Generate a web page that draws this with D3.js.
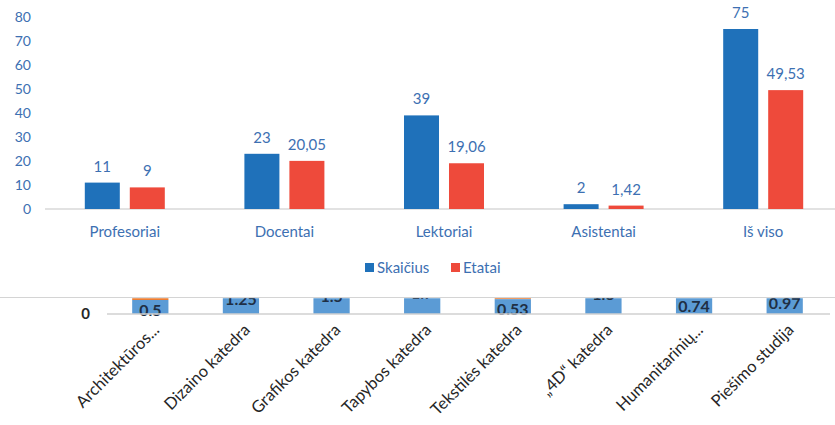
<!DOCTYPE html>
<html>
<head>
<meta charset="utf-8">
<script src="https://cdn.jsdelivr.net/npm/d3@7"></script>
<style>
  body { margin: 0; background: #fff; }
  svg { display: block; font-family: Lato, "Open Sans", sans-serif; }
</style>
</head>
<body>
<div id="chart"></div>
<script>
// top chart data
var categories = ["Profesoriai", "Docentai", "Lektoriai", "Asistentai", "Iš viso"];
var skaicius = [11, 23, 39, 2, 75];
var etatai = [9, 20.05, 19.06, 1.42, 49.53];
var etataiLabels = ["9", "20,05", "19,06", "1,42", "49,53"];
var yTicks = [0, 10, 20, 30, 40, 50, 60, 70, 80];

// bottom (cropped) chart data
var katedros = ["Architektūros...", "Dizaino katedra", "Grafikos katedra", "Tapybos katedra",
    "Tekstilės katedra", "„4D“ katedra", "Humanitarinių...", "Piešimo studija"];
var blueVals = [0.5, 1.25, 1.5, 1.7, 0.53, 1.6, 0.74, 0.97];
var orangeVals = [0.3, 0.25, 0.3, 0.3, 0.3, 0.2, 0.2, 0.1];

var width = 835, height = 425;
var svg = d3.select("#chart").append("svg")
    .attr("width", width)
    .attr("height", height);

var blue = "#1f71ba", red = "#ee4a3b", labelBlue = "#3d70b2";

// ---- top chart
var x = d3.scaleBand().domain(categories).range([45, 843]);
var xi = d3.scaleBand().domain(["s", "e"]).range([x.bandwidth() / 2 - 40, x.bandwidth() / 2 + 40]).paddingInner(0.222);
var y = d3.scaleLinear().domain([0, 80]).range([209, 17]);

svg.selectAll(".ytick")
    .data(yTicks)
    .enter().append("text")
    .attr("x", 31)
    .attr("y", d => y(d))
    .attr("dy", "0.35em")
    .attr("text-anchor", "end")
    .attr("fill", labelBlue)
    .style("font-size", "14px")
    .text(d => d);

svg.append("line")
    .attr("x1", 45).attr("x2", 835)
    .attr("y1", y(0)).attr("y2", y(0))
    .attr("stroke", "#d9d9d9").attr("stroke-width", 1.5);

var groups = svg.selectAll(".grp")
    .data(categories)
    .enter().append("g")
    .attr("transform", d => "translate(" + x(d) + ",0)");

groups.append("rect")
    .attr("x", xi("s"))
    .attr("width", xi.bandwidth())
    .attr("y", (d, i) => y(skaicius[i]))
    .attr("height", (d, i) => y(0) - y(skaicius[i]))
    .attr("fill", blue);

groups.append("rect")
    .attr("x", xi("e"))
    .attr("width", xi.bandwidth())
    .attr("y", (d, i) => y(etatai[i]))
    .attr("height", (d, i) => y(0) - y(etatai[i]))
    .attr("fill", red);

groups.append("text")
    .attr("x", xi("s") + xi.bandwidth() / 2)
    .attr("y", (d, i) => y(skaicius[i]) - 11)
    .attr("text-anchor", "middle")
    .attr("fill", labelBlue)
    .style("font-size", "15px")
    .text((d, i) => skaicius[i]);

groups.append("text")
    .attr("x", xi("e") + xi.bandwidth() / 2)
    .attr("y", (d, i) => y(etatai[i]) - 11)
    .attr("text-anchor", "middle")
    .attr("fill", labelBlue)
    .style("font-size", "15px")
    .text((d, i) => etataiLabels[i]);

groups.append("text")
    .attr("x", x.bandwidth() / 2)
    .attr("y", 237)
    .attr("text-anchor", "middle")
    .attr("fill", labelBlue)
    .style("font-size", "15px")
    .text(d => d);

// legend
var legend = [["Skaičius", blue, 365], ["Etatai", red, 451]];
legend.forEach(function(l) {
    svg.append("rect").attr("x", l[2]).attr("y", 263).attr("width", 9).attr("height", 9).attr("fill", l[1]);
    svg.append("text").attr("x", l[2] + 12).attr("y", 273)
        .attr("fill", labelBlue).style("font-size", "15px").text(l[0]);
});

// ---- bottom chart (cropped at top)
var x2 = d3.scaleBand().domain(katedros).range([105, 830]).paddingInner(0.6).paddingOuter(0.3);
var y2 = d3.scaleLinear().domain([0, 1]).range([314, 286]);

svg.append("line")
    .attr("x1", 0).attr("x2", 835)
    .attr("y1", 297.5).attr("y2", 297.5)
    .attr("stroke", "#d4d4d4").attr("stroke-width", 1.2);

svg.append("clipPath").attr("id", "crop")
    .append("rect").attr("x", 0).attr("y", 298.2).attr("width", width).attr("height", 40);

var bottom = svg.append("g").attr("clip-path", "url(#crop)");

bottom.selectAll(".ob")
    .data(katedros)
    .enter().append("rect")
    .attr("x", d => x2(d))
    .attr("width", x2.bandwidth())
    .attr("y", (d, i) => y2(blueVals[i] + orangeVals[i]))
    .attr("height", (d, i) => y2(blueVals[i]) - y2(blueVals[i] + orangeVals[i]))
    .attr("fill", "#ed7d31");

bottom.selectAll(".bb")
    .data(katedros)
    .enter().append("rect")
    .attr("x", d => x2(d))
    .attr("width", x2.bandwidth())
    .attr("y", (d, i) => y2(blueVals[i]))
    .attr("height", (d, i) => y2(0) - y2(blueVals[i]))
    .attr("fill", "#5b9bd5");

bottom.selectAll(".bl")
    .data(katedros)
    .enter().append("text")
    .attr("x", d => x2(d) + x2.bandwidth() / 2)
    .attr("y", (d, i) => y2(blueVals[i] / 2) + 3)
    .attr("dy", "0.35em")
    .attr("text-anchor", "middle")
    .attr("fill", "#1f2f44")
    .style("font-size", "16px")
    .style("font-weight", "bold")
    .text((d, i) => blueVals[i]);

svg.append("line")
    .attr("x1", 107).attr("x2", 830)
    .attr("y1", y2(0)).attr("y2", y2(0))
    .attr("stroke", "#d0d0d0").attr("stroke-width", 1.5);

svg.append("text")
    .attr("x", 90).attr("y", y2(0))
    .attr("dy", "0.35em")
    .attr("text-anchor", "end")
    .attr("fill", "#262626")
    .style("font-size", "15px")
    .style("font-weight", "bold")
    .text("0");

svg.selectAll(".xl")
    .data(katedros)
    .enter().append("text")
    .attr("transform", d => "translate(" + (x2(d) + x2.bandwidth() / 2 + 10) + ",331) rotate(-45)")
    .attr("text-anchor", "end")
    .attr("fill", "#262626")
    .style("font-size", "16.5px")
    .text(d => d);
</script>
</body>
</html>
